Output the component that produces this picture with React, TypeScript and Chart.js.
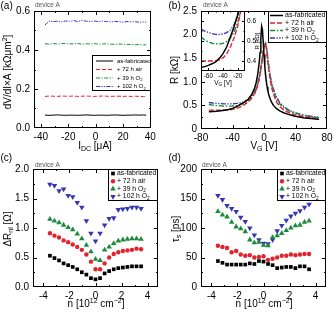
import React, { useEffect, useRef } from 'react';
import { Chart, registerables } from 'chart.js';

Chart.register(...registerables);

const FONT = '"Liberation Sans", Arial, Helvetica, sans-serif';
const C_BLACK = '#000000';
const C_RED = '#e2222c';
const C_GREEN = '#1b8a3d';
const C_BLUE = '#3636b5';

// ---------------- (a) dV/dI x A vs I_DC ----------------
const idcA = [-37, -34, -31, -28, -25, -22, -19, -16, -13, -10, -7, -4, -1, 2, 5, 8, 11, 14, 17, 20, 23, 26, 29, 32, 35, 37];
const aAsFab = [0.066, 0.065, 0.066, 0.067, 0.066, 0.065, 0.066, 0.066, 0.065, 0.066, 0.067, 0.066, 0.065, 0.066, 0.066, 0.065, 0.066, 0.067, 0.066, 0.065, 0.066, 0.066, 0.067, 0.066, 0.067, 0.066];
const aAir72 = [0.162, 0.164, 0.163, 0.162, 0.164, 0.163, 0.163, 0.164, 0.162, 0.163, 0.164, 0.163, 0.162, 0.163, 0.164, 0.163, 0.162, 0.163, 0.163, 0.162, 0.163, 0.162, 0.163, 0.162, 0.161, 0.162];
const aO39 = [0.432, 0.43, 0.433, 0.431, 0.432, 0.434, 0.431, 0.432, 0.433, 0.43, 0.432, 0.431, 0.433, 0.43, 0.431, 0.432, 0.43, 0.429, 0.431, 0.43, 0.428, 0.429, 0.427, 0.428, 0.426, 0.427];
const aO102 = [0.528, 0.549, 0.545, 0.548, 0.544, 0.549, 0.547, 0.551, 0.546, 0.552, 0.548, 0.546, 0.549, 0.545, 0.548, 0.546, 0.544, 0.547, 0.545, 0.543, 0.546, 0.544, 0.545, 0.542, 0.544, 0.543];
const aXTicks = [-40, -20, 0, 20, 40];
const aXMinor = [-30, -10, 10, 30];
const aYTicks = [0, 0.2, 0.4, 0.6];
const aYMinor = [0.1, 0.3, 0.5];

// ---------------- (b) R vs V_G ----------------
const vgB = [-70, -65, -60, -55, -50, -45, -40, -35, -30, -25, -20, -16, -12, -10, -8, -6, -5, -4, -3, -2, -1, 0, 1, 2, 3, 4, 5, 6, 8, 10, 12, 16, 20, 25, 30, 35, 40, 45, 50, 55, 60, 65, 70];
const bAsFab = [0.367, 0.372, 0.378, 0.386, 0.395, 0.413, 0.437, 0.47, 0.52, 0.57, 0.63, 0.72, 0.86, 0.98, 1.15, 1.42, 1.62, 1.92, 2.17, 2.1, 1.85, 1.58, 1.33, 1.14, 1.0, 0.89, 0.8, 0.73, 0.63, 0.56, 0.5, 0.43, 0.385, 0.345, 0.315, 0.29, 0.27, 0.255, 0.24, 0.23, 0.22, 0.21, 0.205];
const bAir72 = [0.4, 0.4, 0.4, 0.4, 0.402, 0.406, 0.415, 0.435, 0.47, 0.515, 0.575, 0.645, 0.75, 0.82, 0.92, 1.06, 1.15, 1.26, 1.38, 1.5, 1.63, 1.73, 1.79, 1.8, 1.72, 1.56, 1.4, 1.26, 1.03, 0.86, 0.74, 0.57, 0.475, 0.405, 0.36, 0.325, 0.3, 0.28, 0.265, 0.25, 0.24, 0.23, 0.222];
const bO39 = [0.52, 0.505, 0.495, 0.489, 0.486, 0.485, 0.488, 0.498, 0.515, 0.545, 0.59, 0.65, 0.75, 0.83, 0.93, 1.07, 1.16, 1.27, 1.39, 1.51, 1.63, 1.72, 1.78, 1.8, 1.74, 1.6, 1.45, 1.31, 1.09, 0.92, 0.8, 0.63, 0.53, 0.45, 0.4, 0.36, 0.335, 0.31, 0.29, 0.275, 0.262, 0.25, 0.24];
const bO102 = [0.56, 0.55, 0.543, 0.537, 0.533, 0.532, 0.535, 0.542, 0.555, 0.58, 0.625, 0.685, 0.78, 0.86, 0.96, 1.1, 1.19, 1.3, 1.41, 1.53, 1.64, 1.73, 1.79, 1.82, 1.77, 1.63, 1.48, 1.34, 1.12, 0.96, 0.84, 0.67, 0.56, 0.475, 0.415, 0.375, 0.345, 0.32, 0.3, 0.283, 0.268, 0.256, 0.245];
const bXTicks = [-80, -40, 0, 40, 80];
const bXMinor = [-60, -20, 20, 60];
const bYTicks = [0, 0.5, 1, 1.5, 2, 2.5];
const bYMinor = [0.25, 0.75, 1.25, 1.75, 2.25];
const insetXTicks = [-60, -40, -20];
const insetXMinor = [-70, -50, -30, -10];
const insetYTicks = [0.4, 0.5, 0.6];
const insetYMinor = [0.35, 0.45, 0.55, 0.65];

// ---------------- (c) dR_nl vs n ----------------
const nGrid = [-3.5, -3.15, -2.8, -2.45, -2.1, -1.75, -1.4, -1.05, -0.7, -0.35, 0, 0.35, 0.7, 1.05, 1.4, 1.75, 2.1, 2.45, 2.8, 3.15, 3.5];
const cAsFab = [0.53, 0.49, 0.45, 0.4, 0.37, 0.34, 0.3, 0.25, 0.21, 0.15, 0.13, 0.15, 0.23, 0.27, 0.3, 0.32, 0.33, 0.34, 0.35, 0.35, 0.35];
const cAir72 = [0.91, 0.87, 0.84, 0.79, 0.76, 0.72, 0.68, 0.63, 0.55, 0.43, 0.3, 0.3, 0.4, 0.5, 0.56, 0.59, 0.61, 0.62, 0.63, 0.65, 0.64];
const cO39 = [1.15, 1.12, 1.09, 1.05, 1.01, 0.97, 0.9, 0.82, 0.71, 0.6, 0.47, 0.45, 0.63, 0.68, 0.74, 0.78, 0.8, 0.81, 0.82, 0.82, 0.81];
const cO102 = [1.74, 1.72, 1.63, 1.66, 1.55, 1.53, 1.43, 1.35, 1.12, 0.91, 0.78, 0.91, 1.05, 1.16, 1.17, 1.31, 1.32, 1.33, 1.35, 1.35, 1.33];
const nTicks = [-4, -2, 0, 2, 4];
const nMinor = [-3, -1, 1, 3];
const cYTicks = [0, 0.5, 1, 1.5, 2];
const cYMinor = [0.25, 0.75, 1.25, 1.75];

// ---------------- (d) tau_s vs n ----------------
const dAsFab = [44, 41, 38, 38, 38, 38, 38, 40, 39, 44, 43, 39, 37, 32, 33, 34, 34, 32, 35, 35, 30];
const dAir72 = [70, 68, 66, 59, 61, 55, 53, 54, 50, 51, 52, 46, 48, 50, 53, 53, 55, 54, 55, 56, 56];
const dO39 = [128, 122, 119, 110, 102, 99, 94, 80, 75, 76, 71, 70, 84, 87, 91, 96, 100, 104, 105, 110, 112];
const dO102 = [155, 148, 138, 133, 128, 118, 111, 100, 88, 80, 74, 73, 80, 95, 104, 113, 120, 125, 129, 135, 140];
const dYTicks = [0, 50, 100, 150, 200];
const dYMinor = [25, 75, 125, 175];

type Seg = [string, string?];

const legendLabels: Seg[][] = [
  [['as-fabricated']],
  [['+ 72 h air']],
  [['+ 39 h O'], ['2', 'sub']],
  [['+ 102 h O'], ['2', 'sub']],
];

interface AxisSpec { min: number; max: number; major: number[]; minor: number[]; fmt: (v: number) => string }
interface TextSpec { x: number; y: number; segs: Seg[]; size: number; align?: string; rot?: boolean; color?: string }
interface LegendItem { segs: Seg[]; color: string; dash?: number[]; lw?: number; marker?: string; r?: number }
interface LegendSpec { box: number[]; rows: number[]; sx: number[]; tx: number; size: number; items: LegendItem[] }
interface PanelSpec {
  ox: number; oy: number; w: number; h: number;
  area: { L: number; T: number; R: number; B: number };
  x: AxisSpec; y: AxisSpec; yRight?: boolean;
  tickSize: number; xPad: number; yPad: number;
  datasets: any[]; texts: TextSpec[]; legend?: LegendSpec; whiteBg?: boolean;
  majLen: number; minLen: number;
}

function drawRich(ctx: CanvasRenderingContext2D, segs: Seg[], x: number, y: number, size: number, align = 'left', rot = false, color = '#000') {
  ctx.save();
  ctx.translate(x, y);
  if (rot) ctx.rotate(-Math.PI / 2);
  ctx.fillStyle = color;
  ctx.textBaseline = 'middle';
  ctx.textAlign = 'left';
  const parts = segs.map(([t, m]) => {
    const fs = m ? size * 0.7 : size;
    ctx.font = `${fs}px ${FONT}`;
    return { t, m, fs, w: ctx.measureText(t).width };
  });
  const total = parts.reduce((s, p) => s + p.w, 0);
  let cx = align === 'center' ? -total / 2 : align === 'right' ? -total : 0;
  for (const p of parts) {
    ctx.font = `${p.fs}px ${FONT}`;
    const dy = p.m === 'sub' ? size * 0.32 : p.m === 'sup' ? -size * 0.33 : 0;
    ctx.fillText(p.t, cx, dy);
    cx += p.w;
  }
  ctx.restore();
}

function drawMarker(ctx: CanvasRenderingContext2D, kind: string, x: number, y: number, r: number, color: string) {
  ctx.save();
  ctx.fillStyle = color;
  ctx.beginPath();
  if (kind === 'rect') {
    const s = r * Math.SQRT1_2;
    ctx.rect(x - s, y - s, 2 * s, 2 * s);
  } else if (kind === 'circle') {
    ctx.arc(x, y, r, 0, Math.PI * 2);
  } else if (kind === 'tri') {
    ctx.moveTo(x, y - r);
    ctx.lineTo(x + r * 0.866, y + r * 0.5);
    ctx.lineTo(x - r * 0.866, y + r * 0.5);
    ctx.closePath();
  } else {
    ctx.moveTo(x, y + r);
    ctx.lineTo(x + r * 0.866, y - r * 0.5);
    ctx.lineTo(x - r * 0.866, y - r * 0.5);
    ctx.closePath();
  }
  ctx.fill();
  ctx.restore();
}

function buildConfig(s: PanelSpec): any {
  const { ox, oy, w, h, area } = s;
  const yW = s.yRight ? ox + w - area.R : area.L - ox;
  const xH = oy + h - area.B;
  const padding = s.yRight
    ? { left: area.L - ox, top: area.T - oy, right: 0, bottom: 0 }
    : { left: 0, top: area.T - oy, right: ox + w - area.R, bottom: 0 };
  const font = { family: FONT, size: s.tickSize };
  const axis = (a: AxisSpec, pos: string, fixed: number, isX: boolean) => ({
    type: 'linear',
    position: pos,
    min: a.min,
    max: a.max,
    grid: { display: false, drawTicks: false },
    border: { display: false },
    ticks: {
      font, color: '#000', padding: isX ? s.xPad : s.yPad,
      autoSkip: false, maxRotation: 0, minRotation: 0,
      callback: (v: number) => a.fmt(Number(v)),
    },
    afterBuildTicks: (sc: any) => { sc.ticks = a.major.map((v) => ({ value: v })); },
    afterFit: (sc: any) => {
      if (isX) sc.height = fixed; else sc.width = fixed;
      sc.paddingLeft = 0; sc.paddingRight = 0; sc.paddingTop = 0; sc.paddingBottom = 0;
    },
  });

  const deco = {
    id: 'deco',
    beforeDatasetsDraw(chart: any) {
      if (!s.whiteBg) return;
      const { left, top, right, bottom } = chart.chartArea;
      const ctx = chart.ctx;
      ctx.save();
      ctx.fillStyle = '#ffffff';
      ctx.fillRect(left, top, right - left, bottom - top);
      ctx.restore();
    },
    afterDraw(chart: any) {
      const ctx: CanvasRenderingContext2D = chart.ctx;
      const { left, top, right, bottom } = chart.chartArea;
      const xs = chart.scales.x;
      const ys = chart.scales.y;
      ctx.save();
      ctx.strokeStyle = '#000';
      ctx.lineWidth = 1;
      ctx.setLineDash([]);
      ctx.strokeRect(Math.round(left) + 0.5, Math.round(top) + 0.5, Math.round(right - left) - 1, Math.round(bottom - top) - 1);
      ctx.beginPath();
      const tx = (vals: number[], len: number) => {
        for (const v of vals) {
          const px = Math.round(xs.getPixelForValue(v)) + 0.5;
          if (px < left + 1 || px > right - 1) continue;
          ctx.moveTo(px, bottom); ctx.lineTo(px, bottom - len);
          ctx.moveTo(px, top); ctx.lineTo(px, top + len);
        }
      };
      const ty = (vals: number[], len: number) => {
        for (const v of vals) {
          const py = Math.round(ys.getPixelForValue(v)) + 0.5;
          if (py < top + 1 || py > bottom - 1) continue;
          ctx.moveTo(left, py); ctx.lineTo(left + len, py);
          ctx.moveTo(right, py); ctx.lineTo(right - len, py);
        }
      };
      tx(s.x.major, s.majLen); tx(s.x.minor, s.minLen);
      ty(s.y.major, s.majLen); ty(s.y.minor, s.minLen);
      ctx.stroke();

      for (const t of s.texts) {
        drawRich(ctx, t.segs, t.x - ox, t.y - oy, t.size, t.align || 'left', !!t.rot, t.color || '#000');
      }

      const lg = s.legend;
      if (lg) {
        const [bx, by, bw, bh] = lg.box;
        ctx.fillStyle = '#fff';
        ctx.fillRect(bx - ox, by - oy, bw, bh);
        ctx.strokeStyle = '#000';
        ctx.lineWidth = 1;
        ctx.strokeRect(bx - ox + 0.5, by - oy + 0.5, bw - 1, bh - 1);
        lg.items.forEach((it, i) => {
          const ry = lg.rows[i] - oy;
          if (it.marker) {
            drawMarker(ctx, it.marker, lg.sx[0] - ox, ry, it.r || 2.5, it.color);
          } else {
            ctx.save();
            ctx.strokeStyle = it.color;
            ctx.lineWidth = it.lw || 1;
            ctx.setLineDash(it.dash || []);
            ctx.beginPath();
            ctx.moveTo(lg.sx[0] - ox, ry);
            ctx.lineTo(lg.sx[1] - ox, ry);
            ctx.stroke();
            ctx.restore();
          }
          drawRich(ctx, it.segs, lg.tx - ox, ry, lg.size, 'left', false, '#000');
        });
      }
      ctx.restore();
    },
  };

  return {
    type: 'scatter',
    data: { datasets: s.datasets },
    options: {
      responsive: false,
      maintainAspectRatio: false,
      devicePixelRatio: 1,
      animation: false,
      events: [],
      layout: { padding },
      plugins: { legend: { display: false }, tooltip: { enabled: false } },
      scales: {
        x: axis(s.x, 'bottom', xH, true),
        y: axis(s.y, s.yRight ? 'right' : 'left', yW, false),
      },
    },
    plugins: [deco],
  };
}

const pts = (xs: number[], ys: number[]) => xs.map((x, i) => ({ x, y: ys[i] }));

const DASH_RED = [4, 2];
const DASH_GREEN = [4, 1.5, 1.2, 1.5];
const DASH_BLUE = [4, 1.3, 1.2, 1.3, 1.2, 1.3];

const lineDs = (xs: number[], ys: number[], color: string, dash: number[], lw: number) => ({
  data: pts(xs, ys), showLine: true, borderColor: color, borderWidth: lw, borderDash: dash,
  pointRadius: 0, tension: 0, clip: 0,
});

const pointDs = (xs: number[], ys: number[], color: string, style: string, r: number, rot = 0) => ({
  data: pts(xs, ys), showLine: false, pointStyle: style, pointRadius: r, pointRotation: rot,
  pointBackgroundColor: color, pointBorderColor: color, pointBorderWidth: 0, borderColor: color,
});

const fmt1 = (v: number) => v.toFixed(1);
const fmtB = (v: number) => (v === 0 ? '0' : v.toFixed(1));
const fmtInt = (v: number) => String(v);

const deviceText = (x: number, y: number): TextSpec => ({ x, y, segs: [['device A']], size: 6.5, color: '#555' });
const nTitle: Seg[] = [['n [10'], ['12', 'sup'], [' cm'], ['\u22122', 'sup'], [']']];

const panelA: PanelSpec = {
  ox: 0, oy: 0, w: 167, h: 156,
  area: { L: 34, T: 11, R: 151, B: 128 },
  x: { min: -45, max: 40.5, major: aXTicks, minor: aXMinor, fmt: fmtInt },
  y: { min: 0, max: 0.6, major: aYTicks, minor: aYMinor, fmt: fmt1 },
  tickSize: 10, xPad: 3, yPad: 4, majLen: 4, minLen: 2,
  datasets: [
    lineDs(idcA, aAsFab, C_BLACK, [], 1),
    lineDs(idcA, aAir72, C_RED, DASH_RED, 1),
    lineDs(idcA, aO39, C_GREEN, DASH_GREEN, 1),
    lineDs(idcA, aO102, C_BLUE, DASH_BLUE, 1),
  ],
  texts: [
    { x: 0.5, y: 6, segs: [['(a)']], size: 10 },
    deviceText(35, 5.5),
    { x: 8, y: 72, segs: [['dV/dI\u00d7A [k\u03a9\u03bcm'], ['2', 'sup'], [']']], size: 10, align: 'center', rot: true },
    { x: 95, y: 146, segs: [['I'], ['DC', 'sub'], [' [\u03bcA]']], size: 10, align: 'center' },
  ],
  legend: {
    box: [92, 55, 59, 36], rows: [61, 69.5, 78, 86.5], sx: [96, 113], tx: 117, size: 6,
    items: [
      { segs: legendLabels[0], color: C_BLACK },
      { segs: legendLabels[1], color: C_RED, dash: DASH_RED },
      { segs: legendLabels[2], color: C_GREEN, dash: DASH_GREEN },
      { segs: legendLabels[3], color: C_BLUE, dash: DASH_BLUE },
    ],
  },
};

const B_DASH_RED = [5, 2];
const B_DASH_GREEN = [5, 1.8, 1.5, 1.8];
const B_DASH_BLUE = [5, 1.5, 1.3, 1.5, 1.3, 1.5];

const bDatasets = () => [
  lineDs(vgB, bAsFab, C_BLACK, [], 1.5),
  lineDs(vgB, bAir72, C_RED, B_DASH_RED, 1.4),
  lineDs(vgB, bO39, C_GREEN, B_DASH_GREEN, 1.4),
  lineDs(vgB, bO102, C_BLUE, B_DASH_BLUE, 1.4),
];

const panelB: PanelSpec = {
  ox: 167, oy: 0, w: 168, h: 156,
  area: { L: 201, T: 11, R: 327, B: 129 },
  x: { min: -80, max: 80, major: bXTicks, minor: bXMinor, fmt: fmtInt },
  y: { min: 0, max: 2.5, major: bYTicks, minor: bYMinor, fmt: fmtB },
  tickSize: 10, xPad: 3, yPad: 4, majLen: 4, minLen: 2,
  datasets: bDatasets(),
  texts: [
    { x: 168.5, y: 6, segs: [['(b)']], size: 10 },
    { x: 175, y: 70, segs: [['R [k\u03a9]']], size: 10, align: 'center', rot: true },
    { x: 264, y: 146, segs: [['V'], ['G', 'sub'], [' [V]']], size: 10, align: 'center' },
  ],
  legend: {
    box: [268, 11, 59, 32], rows: [15.5, 23, 30.5, 38], sx: [270, 283], tx: 285, size: 7,
    items: [
      { segs: legendLabels[0], color: C_BLACK, lw: 1.5 },
      { segs: legendLabels[1], color: C_RED, dash: B_DASH_RED, lw: 1.3 },
      { segs: legendLabels[2], color: C_GREEN, dash: B_DASH_GREEN, lw: 1.3 },
      { segs: legendLabels[3], color: C_BLUE, dash: B_DASH_BLUE, lw: 1.3 },
    ],
  },
};

const panelInset: PanelSpec = {
  ox: 190, oy: 0, w: 72, h: 90,
  area: { L: 201, T: 11, R: 245, B: 71 },
  x: { min: -70, max: -10, major: insetXTicks, minor: insetXMinor, fmt: fmtInt },
  y: { min: 0.35, max: 0.65, major: insetYTicks, minor: insetYMinor, fmt: fmt1 },
  yRight: true, whiteBg: true,
  tickSize: 6.5, xPad: 1.5, yPad: 2, majLen: 3, minLen: 1.5,
  datasets: bDatasets(),
  texts: [
    deviceText(203, 5.5),
    { x: 223, y: 83, segs: [['V'], ['G', 'sub'], [' [V]']], size: 6.5, align: 'center' },
    { x: 257, y: 41, segs: [['R [k\u03a9]']], size: 6, align: 'center', rot: true },
  ],
};

const scatterSets = (a: number[], b: number[], c: number[], d: number[]) => [
  pointDs(nGrid, a, C_BLACK, 'rect', 2.6),
  pointDs(nGrid, b, C_RED, 'circle', 2.2),
  pointDs(nGrid, c, C_GREEN, 'triangle', 3.2),
  pointDs(nGrid, d, C_BLUE, 'triangle', 3.2, 180),
];

const markerLegend = (box: number[], mx: number, tx: number): LegendSpec => ({
  box, rows: [173.5, 181.2, 188.8, 196.5], sx: [mx, mx], tx, size: 6.8,
  items: [
    { segs: legendLabels[0], color: C_BLACK, marker: 'rect', r: 2.6 },
    { segs: legendLabels[1], color: C_RED, marker: 'circle', r: 2.2 },
    { segs: legendLabels[2], color: C_GREEN, marker: 'tri', r: 3.2 },
    { segs: legendLabels[3], color: C_BLUE, marker: 'tridown', r: 3.2 },
  ],
});

const panelC: PanelSpec = {
  ox: 0, oy: 150, w: 167, h: 162,
  area: { L: 33, T: 169, R: 158, B: 287 },
  x: { min: -4.8, max: 4.8, major: nTicks, minor: nMinor, fmt: fmtInt },
  y: { min: 0, max: 2, major: cYTicks, minor: cYMinor, fmt: fmt1 },
  tickSize: 10, xPad: 3, yPad: 4, majLen: 4, minLen: 2,
  datasets: scatterSets(cAsFab, cAir72, cO39, cO102),
  texts: [
    { x: 0.5, y: 158, segs: [['(c)']], size: 10 },
    deviceText(35, 165),
    { x: 8, y: 229, segs: [['\u0394R'], ['nl', 'sub'], [' [\u03a9]']], size: 10, align: 'center', rot: true },
    { x: 96, y: 304, segs: nTitle, size: 10, align: 'center' },
  ],
  legend: markerLegend([108, 169, 50, 32], 113, 117),
};

const panelD: PanelSpec = {
  ox: 167, oy: 150, w: 168, h: 162,
  area: { L: 201, T: 169, R: 326, B: 287 },
  x: { min: -4.8, max: 4.8, major: nTicks, minor: nMinor, fmt: fmtInt },
  y: { min: 0, max: 200, major: dYTicks, minor: dYMinor, fmt: fmtInt },
  tickSize: 10, xPad: 3, yPad: 4, majLen: 4, minLen: 2,
  datasets: scatterSets(dAsFab, dAir72, dO39, dO102),
  texts: [
    { x: 168.5, y: 158, segs: [['(d)']], size: 10 },
    deviceText(202, 165),
    { x: 176, y: 229, segs: [['\u03c4'], ['s', 'sub'], [' [ps]']], size: 10, align: 'center', rot: true },
    { x: 264, y: 304, segs: nTitle, size: 10, align: 'center' },
  ],
  legend: markerLegend([277, 169, 49, 32], 282, 286),
};

function Panel({ spec }: { spec: PanelSpec }) {
  const ref = useRef<HTMLCanvasElement>(null);
  useEffect(() => {
    const chart = new Chart(ref.current as HTMLCanvasElement, buildConfig(spec));
    return () => chart.destroy();
  }, []);
  return (
    <canvas
      ref={ref}
      width={spec.w}
      height={spec.h}
      style={{ position: 'absolute', left: spec.ox, top: spec.oy, width: spec.w, height: spec.h }}
    />
  );
}

export default function App() {
  return (
    <div style={{ position: 'absolute', left: 0, top: 0, width: 335, height: 312, background: '#fff', overflow: 'hidden' }}>
      <Panel spec={panelA} />
      <Panel spec={panelB} />
      <Panel spec={panelInset} />
      <Panel spec={panelC} />
      <Panel spec={panelD} />
    </div>
  );
}
